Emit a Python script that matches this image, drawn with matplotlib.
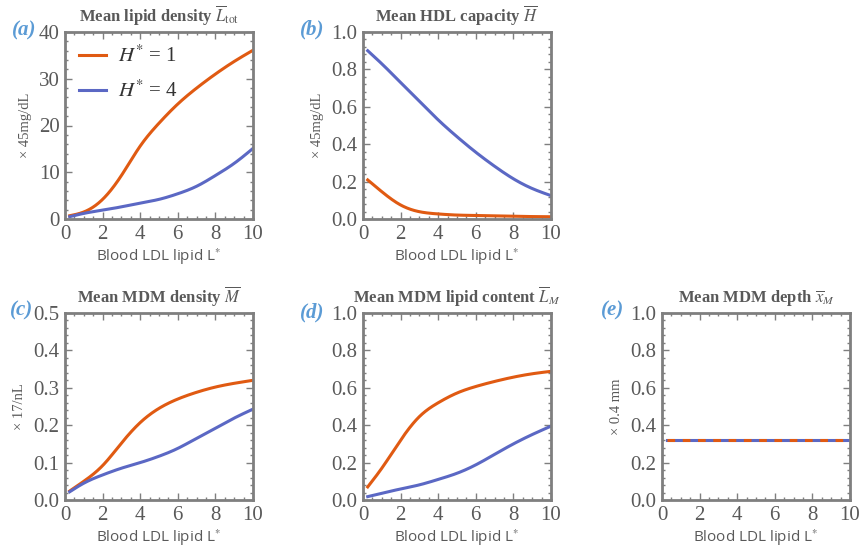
import numpy as np
import matplotlib
matplotlib.use('Agg')
import matplotlib.pyplot as plt
from matplotlib.ticker import AutoMinorLocator

plt.rcParams['mathtext.fontset'] = 'stix'

# Data (x = blood LDL lipid L*)
x = [0.25, 1, 2, 3, 4, 5, 6, 7, 8, 9, 10]

ltot_h1 = [0.7, 1.5, 4.2, 9.3, 15.6, 20.5, 24.6, 28.0, 31.0, 33.7, 36.1]
ltot_h4 = [0.5, 1.2, 1.9, 2.6, 3.4, 4.2, 5.4, 7.0, 9.3, 11.9, 15.1]

hdl_h1 = [0.209, 0.146, 0.075, 0.039, 0.027, 0.021, 0.019, 0.017, 0.015, 0.013, 0.012]
hdl_h4 = [0.90, 0.83, 0.73, 0.63, 0.53, 0.44, 0.357, 0.282, 0.215, 0.163, 0.125]

mdm_h1 = [0.024, 0.05, 0.092, 0.152, 0.207, 0.245, 0.27, 0.288, 0.302, 0.312, 0.32]
mdm_h4 = [0.022, 0.045, 0.067, 0.085, 0.100, 0.117, 0.138, 0.165, 0.192, 0.219, 0.243]

lm_h1 = [0.07, 0.17, 0.32, 0.446, 0.52, 0.572, 0.607, 0.634, 0.657, 0.675, 0.688]
lm_h4 = [0.018, 0.036, 0.059, 0.081, 0.11, 0.143, 0.188, 0.244, 0.30, 0.35, 0.395]

xm_h1 = [0.32] * len(x)
xm_h4 = [0.32] * len(x)

c_h1 = '#e05a12'
c_h4 = '#5b68c4'
frame_col = '#7f7f7f'
text_col = '#595959'
label_col = '#5b9bd5'


def smooth(xs, ys, n=300):
    # natural cubic spline through the read points, only for drawing
    xs = np.asarray(xs, float)
    ys = np.asarray(ys, float)
    k = len(xs)
    h = np.diff(xs)
    A = np.zeros((k, k))
    b = np.zeros(k)
    A[0, 0] = A[-1, -1] = 1
    for i in range(1, k - 1):
        A[i, i - 1] = h[i - 1]
        A[i, i] = 2 * (h[i - 1] + h[i])
        A[i, i + 1] = h[i]
        b[i] = 6 * ((ys[i + 1] - ys[i]) / h[i] - (ys[i] - ys[i - 1]) / h[i - 1])
    M = np.linalg.solve(A, b)
    xx = np.linspace(xs[0], xs[-1], n)
    idx = np.clip(np.searchsorted(xs, xx, side='right') - 1, 0, k - 2)
    x0, x1 = xs[idx], xs[idx + 1]
    hi = h[idx]
    yy = (M[idx] * (x1 - xx)**3 / (6 * hi) + M[idx + 1] * (xx - x0)**3 / (6 * hi)
          + (ys[idx] / hi - M[idx] * hi / 6) * (x1 - xx)
          + (ys[idx + 1] / hi - M[idx + 1] * hi / 6) * (xx - x0))
    return xx, yy


FW, FH = 864, 552
fig = plt.figure(figsize=(FW / 100, FH / 100), dpi=100)

W = 188 / FW
H = 187 / FH
lefts = [65 / FW, 363 / FW, 662 / FW]
top_b = 1 - 219 / FH
bot_b = 1 - 500 / FH

panels = [
    (lefts[0], top_b, ltot_h1, ltot_h4, 40, 10, r'Mean lipid density $\overline{L}_{\mathrm{tot}}$', '× 45mg/dL', '(a)', (36, 30)),
    (lefts[1], top_b, hdl_h1, hdl_h4, 1.0, 0.2, r'Mean HDL capacity $\overline{H}$', '× 45mg/dL', '(b)', (324, 29)),
    (lefts[0], bot_b, mdm_h1, mdm_h4, 0.5, 0.1, r'Mean MDM density $\overline{M}$', '× 17/nL', '(c)', (33, 310)),
    (lefts[1], bot_b, lm_h1, lm_h4, 1.0, 0.2, r'Mean MDM lipid content $\overline{L}_M$', '', '(d)', (324, 312)),
    (lefts[2], bot_b, xm_h1, xm_h4, 1.0, 0.2, r'Mean MDM depth $\overline{x}_M$', '× 0.4 mm', '(e)', (624, 310)),
]

for left, bottom, y1, y4, ymax, ystep, title, ylab, tag, tagpos in panels:
    ax = fig.add_axes([left, bottom, W, H])
    if tag == '(e)':
        ax.plot(x, y4, color=c_h4, lw=2.2)
        ax.plot(x, y1, color=c_h1, lw=2.2, ls=(0, (2.5, 2.5)))
    else:
        xx, yy = smooth(x, y1)
        ax.plot(xx, yy, color=c_h1, lw=2.2, label=r'$H^{*}$ = 1')
        xx, yy = smooth(x, y4)
        ax.plot(xx, yy, color=c_h4, lw=2.2, label=r'$H^{*}$ = 4')
    ax.set_xlim(0, 10)
    ax.set_ylim(0, ymax)
    ax.set_xticks(np.arange(0, 11, 2))
    yt = np.arange(0, ymax + ystep / 2, ystep)
    ax.set_yticks(yt)
    if ystep < 1:
        ax.set_yticklabels([f'{v:.1f}' for v in yt])
    ax.xaxis.set_minor_locator(AutoMinorLocator(4))
    ax.yaxis.set_minor_locator(AutoMinorLocator(5))
    ax.tick_params(which='both', direction='in', top=True, right=True, color=frame_col,
                   labelcolor=text_col, labelsize=15, width=1, pad=4)
    ax.tick_params(which='major', length=5)
    ax.tick_params(which='minor', length=2.5)
    for lab in ax.get_xticklabels() + ax.get_yticklabels():
        lab.set_family('Liberation Serif')
    for s in ax.spines.values():
        s.set_color(frame_col)
        s.set_linewidth(2)
    ax.set_title(title, fontsize=12, fontweight='bold', color=text_col,
                 family='Liberation Serif', pad=7)
    ax.set_xlabel('Blood LDL lipid L$^{*}$', fontsize=11, color=text_col,
                  family='Open Sans', labelpad=2)
    if ylab:
        ax.set_ylabel(ylab, fontsize=10.5, color=text_col, family='Liberation Serif', labelpad=5)
    fig.text(tagpos[0] / FW, 1 - tagpos[1] / FH, tag, fontsize=15, fontweight='bold',
             style='italic', color=label_col, family='Liberation Serif', ha='right', va='center')
    if tag == '(a)':
        leg = ax.legend(loc='upper left', frameon=False, fontsize=15, handlelength=1.3,
                        handletextpad=0.6, labelspacing=0.65, borderaxespad=0.25)
        for t in leg.get_texts():
            t.set_family('Liberation Serif')
            t.set_color('#333333')

fig.savefig('out.png', dpi=100)
